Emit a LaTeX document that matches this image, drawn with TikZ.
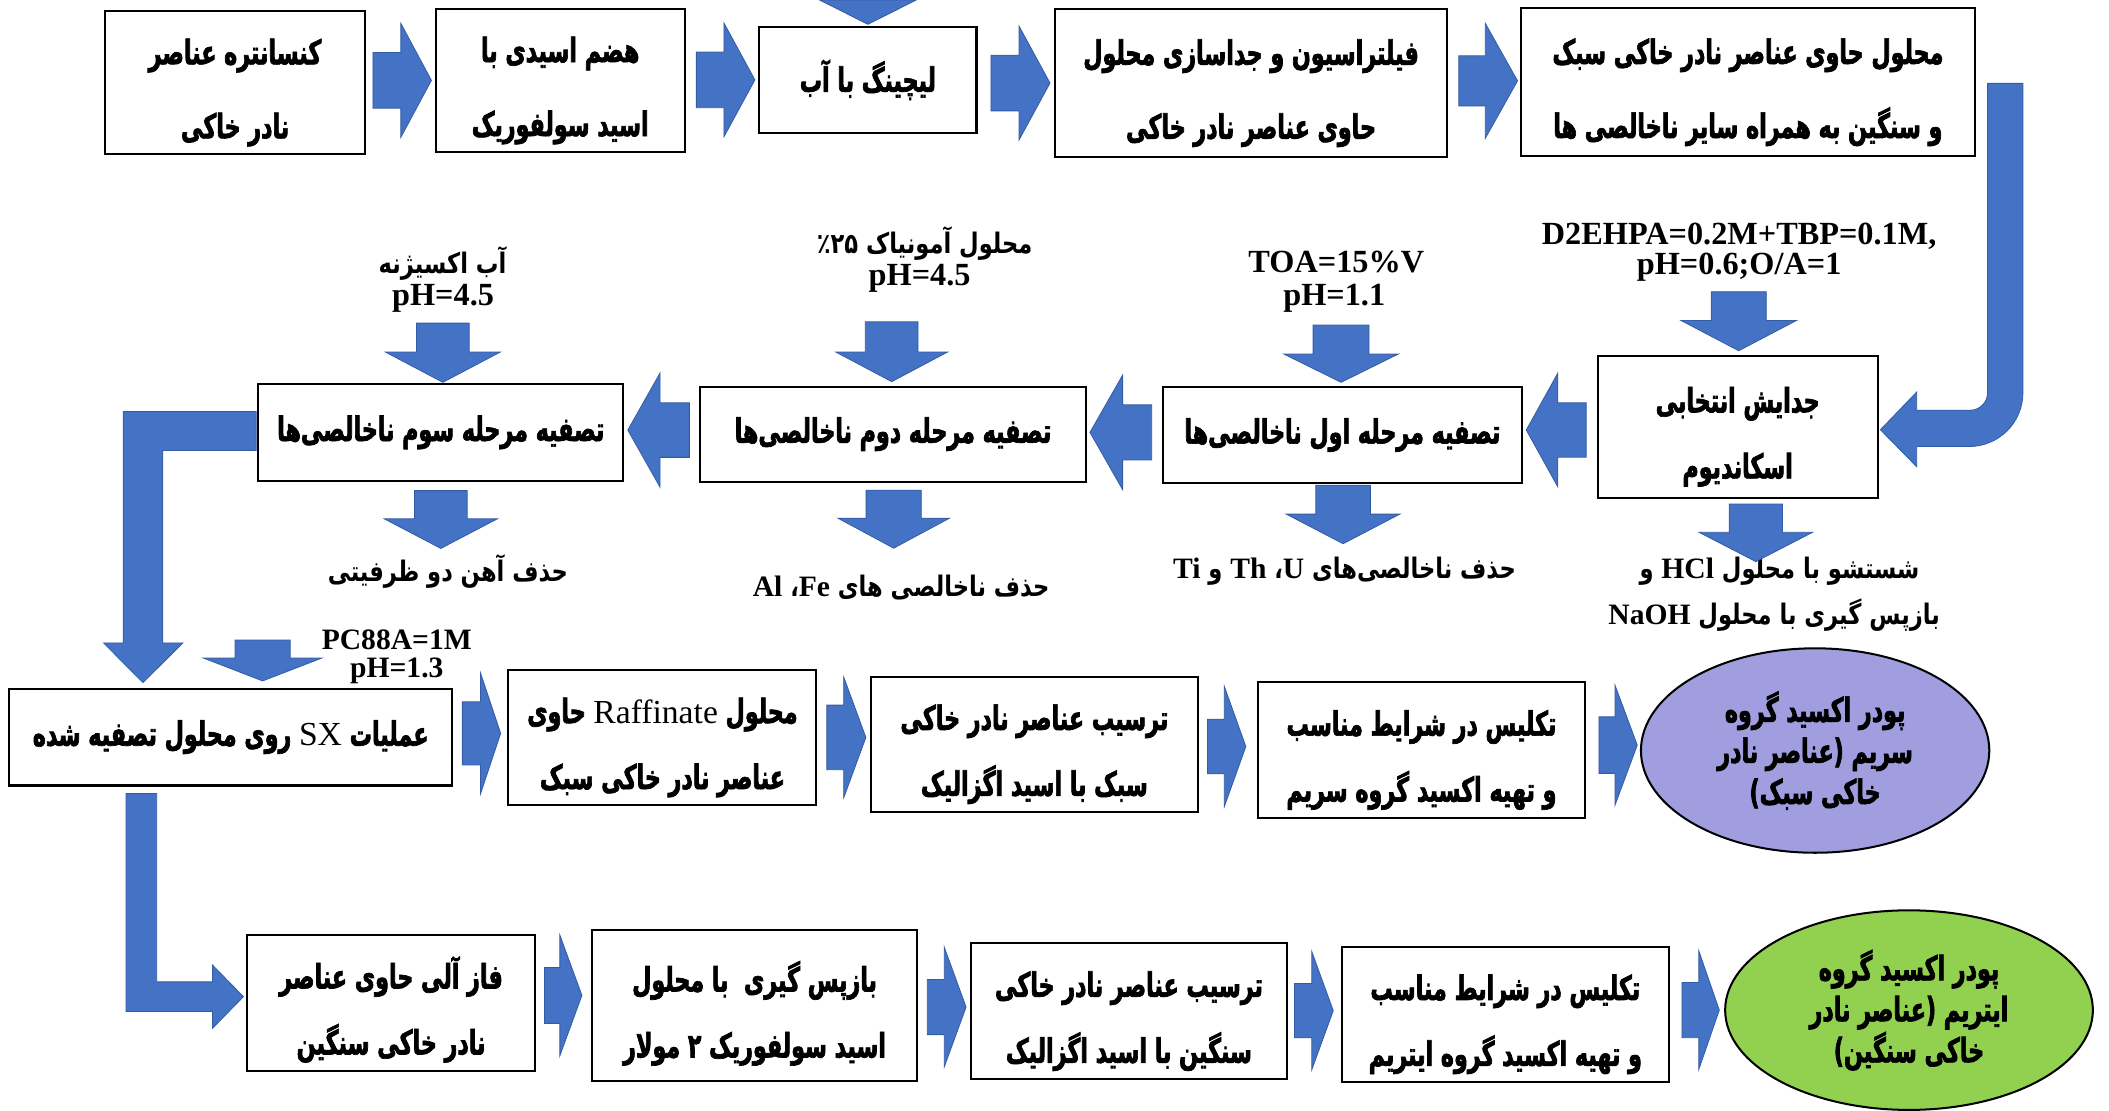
\documentclass[tikz,border=0pt]{standalone}
\usepackage{fontspec}
\usetikzlibrary{calc,shapes.geometric}
\TeXXeTstate=1
\newfontfamily\faboxfont[Script=Arabic,FakeStretch=0.66,FakeBold=2]{DejaVu Sans Bold}
\newfontfamily\falabfont[Script=Arabic,FakeStretch=0.8]{DejaVu Sans}
\newfontfamily\latfont{Liberation Serif}
\newcommand\fa[1]{\beginR #1\endR}
\newcommand\la[1]{{\latfont\bfseries\fontsize{22}{24}\selectfont #1}}
\newcommand\lr[1]{{\latfont\mdseries #1}}
\newcommand\st{\rule{0pt}{34pt}}
\newcommand\topfont{\faboxfont\fontsize{25}{55}\selectfont}
\newcommand\boxfont{\faboxfont\fontsize{25}{49}\selectfont}
\newcommand\ellfont{\faboxfont\fontsize{25}{30.5}\selectfont}
\newcommand\labfont{\falabfont\bfseries\fontsize{21}{24}\selectfont}
\newcommand\latlabfont{\latfont\bfseries\fontsize{24}{24}\selectfont}
\newcommand\pcfont{\latfont\bfseries\fontsize{22}{22}\selectfont}
\definecolor{arrowblue}{RGB}{68,114,196}
\definecolor{arrowedge}{RGB}{52,92,165}
\definecolor{lightree}{RGB}{160,158,222}
\definecolor{heavyree}{RGB}{146,208,80}
\tikzset{
  box/.style={draw=black, line width=1.5pt, fill=white, inner sep=0pt, align=center, font=\boxfont},
  topbox/.style={box, font=\topfont},
  ell/.style={draw=black, line width=1.5pt, ellipse, inner sep=0pt, align=center, font=\ellfont},
  lab/.style={inner sep=0pt, font=\labfont},
  latlab/.style={inner sep=0pt, font=\latlabfont},
  pclab/.style={inner sep=0pt, font=\pcfont},
  blockarrow/.style={fill=arrowblue, draw=arrowedge, line width=0.6pt, line join=miter}
}
% horizontal block arrow: start, tip, shaft half, head half, signed head length
\newcommand\harrow[5]{%
  \path[blockarrow] let \p1=#1, \p2=#2 in
  (\x1,{\y2+(#3)}) -- ({\x2-(#5)},{\y2+(#3)}) -- ({\x2-(#5)},{\y2+(#4)}) -- (\x2,\y2)
  -- ({\x2-(#5)},{\y2-(#4)}) -- ({\x2-(#5)},{\y2-(#3)}) -- (\x1,{\y2-(#3)}) -- cycle;}
% downward block arrow: start, tip, shaft half, head half, head length
\newcommand\varrow[5]{%
  \path[blockarrow] let \p1=#1, \p2=#2 in
  ({\x2-(#3)},\y1) -- ({\x2-(#3)},{\y2+(#5)}) -- ({\x2-(#4)},{\y2+(#5)}) -- (\x2,\y2)
  -- ({\x2+(#4)},{\y2+(#5)}) -- ({\x2+(#3)},{\y2+(#5)}) -- ({\x2+(#3)},\y1) -- cycle;}
\begin{document}
\begin{tikzpicture}[x=1pt,y=-1pt]
\useasboundingbox[fill=white] (0,0) rectangle (1568,826);

% ---------- row 1 ----------
\node[topbox, minimum width=193.5pt, minimum height=106.3pt] (b1) at (174.75,61.35) {\st\fa{کنسانتره عناصر}\\\fa{نادر خاکی}};
\node[topbox, minimum width=185pt, minimum height=106.1pt] (b2) at (416.5,59.75) {\st\fa{هضم اسیدی با}\\\fa{اسید سولفوریک}};
\node[topbox, minimum width=161.5pt, minimum height=79.2pt] (b3) at (645.25,59.4) {\fa{لیچینگ با آب}};
\node[topbox, minimum width=291.4pt, minimum height=109.5pt] (b4) at (930.1,61.75) {\st\fa{فیلتراسیون و جداسازی محلول}\\\fa{حاوی عناصر نادر خاکی}};
\node[topbox, minimum width=337.9pt, minimum height=109.8pt] (b5) at (1299.55,61.1) {\st\fa{محلول حاوی عناصر نادر خاکی سبک}\\\fa{و سنگین به همراه سایر ناخالصی ها}};

% ---------- row 2 ----------
\node[box, minimum width=208.2pt, minimum height=105.6pt] (b6) at (1291.9,317.2) {\st\fa{جدایش انتخابی}\\\fa{اسکاندیوم}};
\node[box, minimum width=267.1pt, minimum height=71.8pt] (b7) at (998.05,323.4) {\fa{تصفیه مرحله اول ناخالصی‌ها}};
\node[box, minimum width=287.3pt, minimum height=70.5pt] (b8) at (663.95,322.75) {\fa{تصفیه مرحله دوم ناخالصی‌ها}};
\node[box, minimum width=271.5pt, minimum height=71.9pt] (b9) at (327.75,321.45) {\fa{تصفیه مرحله سوم ناخالصی‌ها}};

% labels row 2
\node[lab] (l9a) at (329,195.7) {\fa{آب اکسیژنه}};
\node[latlab] (l9b) at (329.4,221.7) {pH=4.5};
\node[lab] (l8a) at (687.5,180.8) {\fa{محلول آمونیاک ۲۵\kern0pt ٪}};
\node[latlab] (l8b) at (683.7,206.8) {pH=4.5};
\node[latlab] (l7a) at (993.5,194.5) {TOA=15\%V};
\node[latlab] (l7b) at (992,222) {pH=1.1};
\node[latlab] (l6a) at (1293,176) {D2EHPA=0.2M+TBP=0.1M,};
\node[latlab] (l6b) at (1293,199) {pH=0.6;O/A=1};
\node[lab] (r9) at (333,425) {\fa{حذف آهن دو ظرفیتی}};
\node[lab] (r8) at (670,437) {\fa{حذف ناخالصی های \la{Fe}، \la{Al}}};
\node[lab] (r7) at (999.6,425) {\fa{حذف ناخالصی‌های \la{U}، \la{Th} و \la{Ti}}};
\node[lab] (r6a) at (1323,425) {\fa{شستشو با محلول \la{HCl} و}};
\node[lab] (r6b) at (1319,457) {\fa{بازپس گیری با محلول \la{NaOH}}};

% ---------- row 3 ----------
\node[box, minimum width=329pt, minimum height=72pt] (b10) at (171.5,548) {\fa{عملیات \lr{SX} روی محلول تصفیه شده}};
\node[pclab] (pc1) at (295,475.5) {PC88A=1M};
\node[pclab] (pc2) at (295,498.5) {pH=1.3};
\node[box, minimum width=229pt, minimum height=100.5pt] (b11) at (492.5,548.25) {\st\fa{محلول \lr{Raffinate} حاوی}\\\fa{عناصر نادر خاکی سبک}};
\node[box, minimum width=243.1pt, minimum height=100.5pt] (b12) at (769.05,553.25) {\st\fa{ترسیب عناصر نادر خاکی}\\\fa{سبک با اسید اگزالیک}};
\node[box, minimum width=243.6pt, minimum height=101pt] (b13) at (1056.8,557.5) {\st\fa{تکلیس در شرایط مناسب}\\\fa{و تهیه اکسید گروه سریم}};
\node[ell, fill=lightree, minimum width=259pt, minimum height=152pt] (e1) at (1349.5,558) {\fa{پودر اکسید گروه}\\\fa{سریم (عناصر نادر}\\\fa{خاکی سبک)}};

% ---------- row 4 ----------
\node[box, minimum width=214.5pt, minimum height=101pt] (b14) at (290.75,745.5) {\st\fa{فاز آلی حاوی عناصر}\\\fa{نادر خاکی سنگین}};
\node[box, minimum width=242pt, minimum height=112.5pt] (b15) at (561,747.75) {\st\fa{بازپس گیری\ \ با محلول}\\\fa{اسید سولفوریک ۲ مولار}};
\node[box, minimum width=234.7pt, minimum height=100.6pt] (b16) at (839.35,751.7) {\st\fa{ترسیب عناصر نادر خاکی}\\\fa{سنگین با اسید اگزالیک}};
\node[box, minimum width=242.7pt, minimum height=100.4pt] (b17) at (1119.15,754) {\st\fa{تکلیس در شرایط مناسب}\\\fa{و تهیه اکسید گروه ایتریم}};
\node[ell, fill=heavyree, minimum width=273.4pt, minimum height=148.4pt] (e2) at (1419.3,751) {\fa{پودر اکسید گروه}\\\fa{ایتریم (عناصر نادر}\\\fa{خاکی سنگین)}};

% ---------- arrows row 1 ----------
\path[blockarrow] let \p1=(b3.north) in ({\x1-36},0) -- ({\x1+36},0) -- (\x1,{\y1+1}) -- cycle;
\harrow{($(b1.east)+(5,0)$)}{($(b2.west)+(-2.5,0)$)}{20.7}{42.3}{22.7}
\harrow{($(b2.east)+(8,0)$)}{($(b3.west)+(-2.5,0)$)}{20.7}{42.3}{23}
\harrow{($(b3.east)+(10,0)$)}{($(b4.west)+(-3,0)$)}{20.7}{42.3}{23}
\harrow{($(b4.east)+(8,0)$)}{($(b5.west)+(-1.6,-1)$)}{18.6}{42.8}{24}

% bent arrow b5 -> b6
\path[blockarrow] (1477.7,62) -- (1504,62) -- (1504,292) arc[start angle=0,end angle=-90,radius=40pt]
  -- (1425,332) -- (1425,347) -- (1398,319.5) -- (1425,291.5) -- (1425,305) -- (1464.7,305)
  arc[start angle=-90,end angle=0,radius=13pt] -- cycle;

% ---------- arrows row 2 ----------
\harrow{($(b6.west)+(-7.8,0)$)}{($(b7.east)+(2.4,-3.7)$)}{20.2}{42.2}{-23.4}
\harrow{($(b7.west)+(-7.5,0)$)}{($(b8.east)+(2,-1.3)$)}{20.5}{42.6}{-24.3}
\harrow{($(b8.west)+(-7,0)$)}{($(b9.east)+(2.5,-1.7)$)}{20.3}{42.5}{-24}

\varrow{($(b9.north)+(1.5,-44.5)$)}{($(b9.north)+(1.5,-0.5)$)}{19.6}{42.7}{22.5}
\varrow{($(b9.south)+(0,6.6)$)}{($(b9.south)+(0,49.6)$)}{19.6}{42}{22}
\varrow{($(b8.north)+(-1,-47.5)$)}{($(b8.north)+(-1,-3)$)}{19.6}{41.5}{22}
\varrow{($(b8.south)+(0.5,5.7)$)}{($(b8.south)+(0.5,48.8)$)}{20.5}{41.5}{22.3}
\varrow{($(b7.north)+(-1,-45.1)$)}{($(b7.north)+(-1,-2.5)$)}{20.8}{42.5}{21}
\varrow{($(b7.south)+(0.5,0.7)$)}{($(b7.south)+(0.5,44.2)$)}{20.3}{42.2}{22}
\varrow{($(b6.north)+(0.8,-46.8)$)}{($(b6.north)+(0.8,-2.9)$)}{20.5}{43}{22.5}
\varrow{($(b6.south)+(13.5,4)$)}{($(b6.south)+(13.5,46.8)$)}{19.8}{42.2}{21.8}

% bent arrow b9 -> b10
\path[blockarrow] (190.5,306) -- (91.6,306) -- (91.6,478) -- (77,478) -- (106.3,507.5)
  -- (136,478) -- (121,478) -- (121,335) -- (190.5,335) -- cycle;
% PC88A arrow
\varrow{($(b10.north west)+(189,-35.4)$)}{($(b10.north west)+(189,-5)$)}{20.5}{44}{17}

% ---------- arrows row 3 ----------
\harrow{($(b10.east)+(7,0)$)}{($(b11.west)+(-5,-3)$)}{23.5}{45}{15}
\harrow{($(b11.east)+(7,0)$)}{($(b12.west)+(-3,-5)$)}{24}{45}{16.5}
\harrow{($(b12.east)+(6.4,0)$)}{($(b13.west)+(-8,-2.5)$)}{20.3}{44.7}{16}
\harrow{($(b13.east)+(9.4,0)$)}{($(e1.west)+(-2,-4)$)}{21}{44.5}{16.5}

% bent arrow b10 -> b14
\path[blockarrow] (93.7,590) -- (116.5,590) -- (116.5,730) -- (158,730) -- (158,717.5)
  -- (181,741) -- (158,764.5) -- (158,752) -- (93.7,752) -- cycle;

% ---------- arrows row 4 ----------
\harrow{($(b14.east)+(6,0)$)}{($(b15.west)+(-6.6,-7.7)$)}{20.8}{44.8}{16.4}
\harrow{($(b15.east)+(6.7,0)$)}{($(b16.west)+(-3,-3)$)}{20.5}{44.5}{16.2}
\harrow{($(b16.east)+(5,0)$)}{($(b17.west)+(-5.8,-2.6)$)}{20.2}{44}{16}
\harrow{($(b17.east)+(9.2,0)$)}{($(e2.west)+(-3.6,0)$)}{20.5}{44}{15.2}
\end{tikzpicture}
\end{document}
